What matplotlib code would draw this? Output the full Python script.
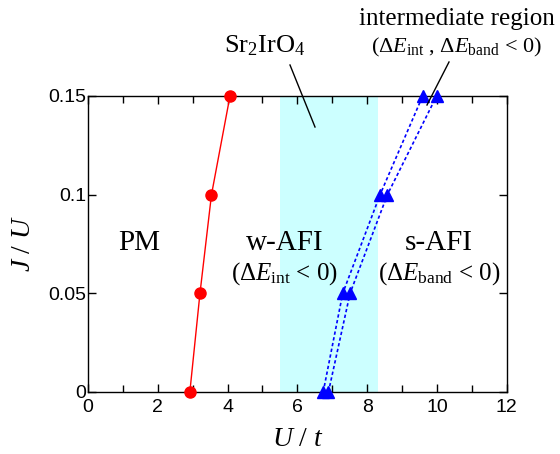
import matplotlib
matplotlib.use("Agg")
import matplotlib.pyplot as plt
from matplotlib.ticker import MultipleLocator

# Data
pm_U = [2.92, 3.21, 3.54, 4.07]
pm_J = [0.0, 0.05, 0.10, 0.15]
afi1_U = [6.74, 7.30, 8.37, 9.59]
afi2_U = [6.89, 7.51, 8.58, 9.99]
afi_J = [0.0, 0.05, 0.10, 0.15]
band_lo, band_hi = 5.5, 8.3
xticks = [0, 2, 4, 6, 8, 10, 12]
yticks = [0, 0.05, 0.1, 0.15]
yticklabels = ["0", "0.05", "0.1", "0.15"]

serif = "Liberation Serif"
sans = "Liberation Sans"
plt.rcParams['mathtext.fontset'] = 'custom'
plt.rcParams['mathtext.rm'] = serif
plt.rcParams['mathtext.it'] = serif + ':italic'

fig = plt.figure(figsize=(5.6, 4.54), dpi=100)
ax = fig.add_axes([0.157, 0.1366, 0.748, 0.652])

ax.axvspan(band_lo, band_hi, color="#ccffff", zorder=0, lw=0)
ax.plot(pm_U, pm_J, color="red", lw=1.0, marker="o", ms=8, clip_on=False, zorder=3)
for u in (afi1_U, afi2_U):
    ax.plot(u, afi_J, color="blue", lw=1.2, ls=(0, (2, 1.5)), marker="^", ms=8.5,
            clip_on=False, zorder=3)

ax.set_xlim(0, 12)
ax.set_ylim(0, 0.15)
ax.set_xticks(xticks)
ax.set_xticklabels([str(t) for t in xticks], fontfamily=sans, fontsize=14)
ax.set_yticks(yticks)
ax.set_yticklabels(yticklabels, fontfamily=sans, fontsize=14)
ax.xaxis.set_minor_locator(MultipleLocator(1))
ax.tick_params(which="both", direction="in", top=True, right=True, width=1)
ax.tick_params(which="major", length=6)
ax.tick_params(which="minor", length=5)
ax.tick_params(axis="x", pad=5)
ax.tick_params(axis="y", pad=1)
for s in ax.spines.values():
    s.set_linewidth(1)

ax.set_xlabel("$U\\ /\\ t$", fontsize=20, labelpad=6)
ax.set_ylabel("$J\\ /\\ U$", fontsize=20, labelpad=9)

fs = 21
ax.text(1.48, 0.0755, "PM", fontsize=fs, family=serif, ha="center", va="center")
ax.text(5.64, 0.0755, "w-AFI", fontsize=fs, family=serif, ha="center", va="center")
ax.text(5.64, 0.0598, "($\\Delta E_{\\rm int}$ < 0)", fontsize=18, family=serif,
        ha="center", va="center")
ax.text(10.06, 0.0755, "s-AFI", fontsize=fs, family=serif, ha="center", va="center")
ax.text(10.06, 0.0598, "($\\Delta E_{\\rm band}$ < 0)", fontsize=18, family=serif,
        ha="center", va="center")

fig.text(265/560, 1-46/454, "Sr$_2$IrO$_4$", fontsize=19, family=serif,
         ha="center", va="center")
fig.text(457/560, 1-19/454, "intermediate region", fontsize=18, family=serif,
         ha="center", va="center")
fig.text(456/560, 1-47/454, "($\\Delta E_{\\rm int}$ , $\\Delta E_{\\rm band}$ < 0)",
         fontsize=16, family=serif, ha="center", va="center")

fig.add_artist(plt.Line2D([290/560, 315/560], [1-65/454, 1-127/454], color="black", lw=1))
fig.add_artist(plt.Line2D([449/560, 427/560], [1-62/454, 1-105/454], color="black", lw=1))

fig.savefig("out.png", dpi=100)
